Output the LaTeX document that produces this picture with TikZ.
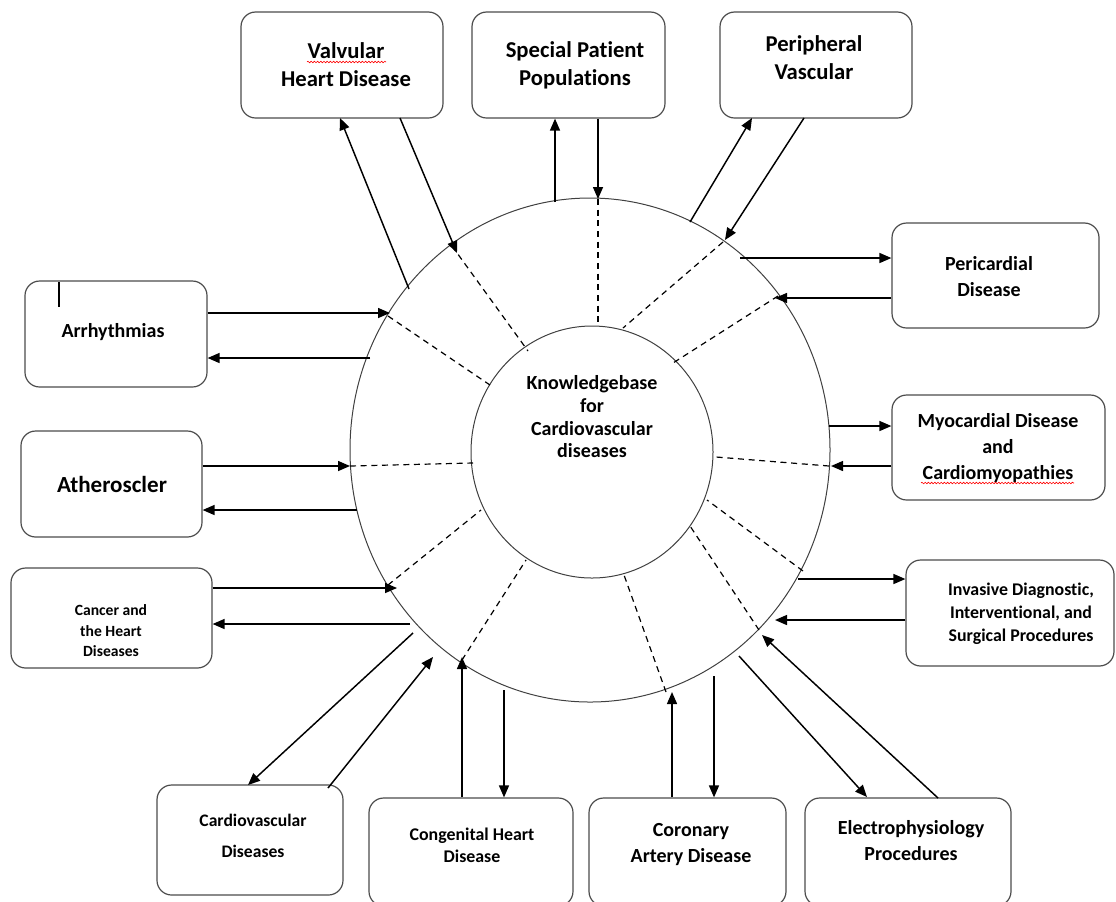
\documentclass[tikz,border=0pt]{standalone}
\usepackage{fontspec}
\setmainfont[RawFeature={-liga;-clig;-calt;-dlig}]{Carlito}
\usetikzlibrary{arrows.meta,shapes.geometric,decorations.pathmorphing}
\tikzset{
  block/.style 2 args={draw=black!70,line width=0.9pt,rounded corners=11pt,inner sep=0pt,
    minimum width=#1*0.75pt,minimum height=#2*0.75pt},
  lbl/.style={align=center,inner sep=0pt},
  ring/.style 2 args={draw=black!75,line width=0.75pt,ellipse,inner sep=0pt,
    minimum width=#1*0.75pt,minimum height=#2*0.75pt},
  link/.style={line width=1.1pt,-{Triangle[length=9pt,width=7.5pt]}},
  spoke/.style={line width=0.9pt,dash pattern=on 4.5pt off 3.5pt},
  squiggle/.style={red,line width=0.45pt,decorate,
    decoration={snake,amplitude=0.6pt,segment length=2.4pt}}
}
\newcommand{\fsz}[2]{\fontsize{#1}{#2}\selectfont\bfseries}

\begin{document}
\begin{tikzpicture}[x=0.75pt,y=-0.75pt]
  \useasboundingbox (0,0) rectangle (1116,901);

  % rings
  \node[ring={480}{504}] (rim) at (590,450) {};
  \node[ring={242}{252}] (core) at (592,452) {};
  \node[lbl,font=\fsz{15}{17}] (kb) at (592,417) {Knowledgebase\\for\\Cardiovascular\\diseases};
  \foreach \xa/\ya/\xb/\yb in {598/199/598/326, 723/242/623/328, 778/296/673/363,
      829/466/716/457, 803/571/707/500, 759/630/690/526, 666/692/624/575,
      462/660/526/560, 388/585/481/510, 350/466/473/463, 388/316/490/385,
      452/246/528/351}
    \draw[spoke] (\xa,\ya) -- (\xb,\yb);

  % boxes
  \node[block={202}{106}] (valv) at (342,65) {};
  \node[lbl,font=\fsz{17}{21}] (valv-t) at (346,65) {Valvular\\Heart Disease};
  \node[block={193}{106}] (spec) at (568.5,65) {};
  \node[lbl,font=\fsz{17}{21}] (spec-t) at (575,65) {Special Patient\\Populations};
  \node[block={192}{106}] (peri) at (816,65) {};
  \node[lbl,font=\fsz{17}{21}] (peri-t) at (814,58) {Peripheral\\Vascular};
  \node[block={207}{105}] (pcard) at (995.5,275.5) {};
  \node[lbl,font=\fsz{15}{19.5}] (pcard-t) at (989,277) {Pericardial\\Disease};
  \node[block={213}{105}] (myo) at (998.5,447.5) {};
  \node[lbl,font=\fsz{15}{19.5}] (myo-t) at (998,448) {Myocardial Disease\\and\\Cardiomyopathies};
  \node[block={208}{106}] (inv) at (1010,613) {};
  \node[lbl,font=\fsz{13.4}{17.25}] (inv-t) at (1021,614) {Invasive Diagnostic,\\Interventional, and\\Surgical Procedures};
  \node[block={206}{108}] (elec) at (908,852) {};
  \node[lbl,font=\fsz{15}{19.5}] (elec-t) at (911,841) {Electrophysiology\\Procedures};
  \node[block={197}{108}] (cor) at (687.5,852) {};
  \node[lbl,font=\fsz{15}{19.5}] (cor-t) at (691,844) {Coronary\\Artery Disease};
  \node[block={204}{108}] (cong) at (471,852) {};
  \node[lbl,font=\fsz{13.4}{16.5}] (cong-t) at (472,845) {Congenital Heart\\Disease};
  \node[block={186}{110}] (cvd) at (250,840) {};
  \node[lbl,font=\fsz{13.2}{23.25}] (cvd-t) at (253,836) {Cardiovascular\\Diseases};
  \node[block={201}{100}] (canc) at (111.5,618) {};
  \node[lbl,font=\fsz{11.7}{15.4}] (canc-t) at (111,631) {Cancer and\\the Heart\\Diseases};
  \node[block={181}{106}] (ath) at (111.5,484) {};
  \node[lbl,font=\fsz{17.3}{21}] (ath-t) at (112,484) {Atheroscler};
  \node[block={182}{106}] (arr) at (116,334) {};
  \node[lbl,font=\fsz{15}{19}] (arr-t) at (113,332) {Arrhythmias};

  % spell-check marks and stray tick
  \draw[squiggle] (307,62) -- (386,62);
  \draw[squiggle] (921,483) -- (1074,483);
  \draw[line width=1.8pt] (59,282) -- (59,307);

  % top connectors
  \coordinate (va-o) at (409,289); \coordinate (va-ob) at (340,118);
  \coordinate (va-ib) at (400,118); \coordinate (va-i) at (457,253);
  \draw[link] (va-o) -- (va-ob);
  \draw[link] (va-ib) -- (va-i);
  \coordinate (sp-o) at (555,202); \coordinate (sp-i) at (598,199);
  \draw[link] (sp-o) -- (spec.south -| sp-o);
  \draw[link] (spec.south -| sp-i) -- (sp-i);
  \coordinate (pe-o) at (690,222); \coordinate (pe-ob) at (752,118);
  \coordinate (pe-ib) at (804,118); \coordinate (pe-i) at (725,240);
  \draw[link] (pe-o) -- (pe-ob);
  \draw[link] (pe-ib) -- (pe-i);

  % right connectors
  \coordinate (pc-o) at (740,258); \coordinate (pc-i) at (775,298);
  \draw[link] (pc-o) -- (pcard.west |- pc-o);
  \draw[link] (pcard.west |- pc-i) -- (pc-i);
  \coordinate (my-o) at (829,426); \coordinate (my-i) at (831,466);
  \draw[link] (my-o) -- (myo.west |- my-o);
  \draw[link] (myo.west |- my-i) -- (my-i);
  \coordinate (in-o) at (798,579); \coordinate (in-i) at (775,620);
  \draw[link] (in-o) -- (inv.west |- in-o);
  \draw[link] (inv.west |- in-i) -- (in-i);

  % bottom connectors
  \coordinate (el-o) at (739,656); \coordinate (el-ob) at (867,797);
  \coordinate (el-ib) at (938,798); \coordinate (el-i) at (762,635);
  \draw[link] (el-o) -- (el-ob);
  \draw[link] (el-ib) -- (el-i);
  \coordinate (co-i) at (672,692); \coordinate (co-o) at (714,676);
  \draw[link] (cor.north -| co-i) -- (co-i);
  \draw[link] (co-o) -- (cor.north -| co-o);
  \coordinate (cg-i) at (462,657); \coordinate (cg-o) at (504,690);
  \draw[link] (cong.north -| cg-i) -- (cg-i);
  \draw[link] (cg-o) -- (cong.north -| cg-o);
  \coordinate (cv-o) at (413,633); \coordinate (cv-ob) at (248,785);
  \coordinate (cv-ib) at (328,788); \coordinate (cv-i) at (433,657);
  \draw[link] (cv-o) -- (cv-ob);
  \draw[link] (cv-ib) -- (cv-i);

  % left connectors
  \coordinate (ca-i) at (397,588); \coordinate (ca-o) at (410,624);
  \draw[link] (canc.east |- ca-i) -- (ca-i);
  \draw[link] (ca-o) -- (canc.east |- ca-o);
  \coordinate (at-i) at (350,466); \coordinate (at-o) at (357,510);
  \draw[link] (ath.east |- at-i) -- (at-i);
  \draw[link] (at-o) -- (ath.east |- at-o);
  \coordinate (ar-i) at (390,313); \coordinate (ar-o) at (370,358);
  \draw[link] (arr.east |- ar-i) -- (ar-i);
  \draw[link] (ar-o) -- (arr.east |- ar-o);
\end{tikzpicture}
\end{document}
